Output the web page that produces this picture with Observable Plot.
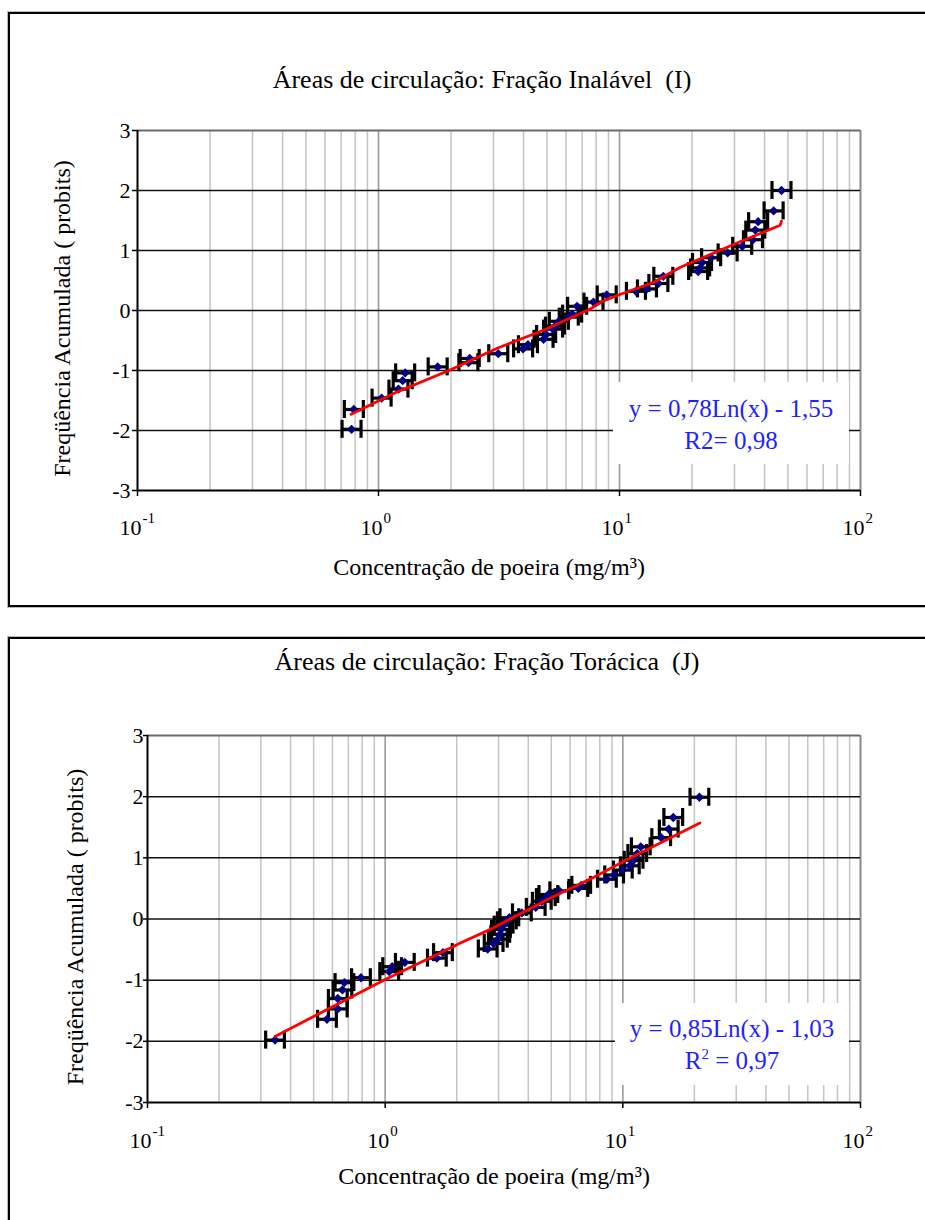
<!DOCTYPE html>
<html><head><meta charset="utf-8">
<script src="https://cdn.jsdelivr.net/npm/d3@7"></script>
<script src="https://cdn.jsdelivr.net/npm/@observablehq/plot@0.6"></script>
<style>
body{margin:0;width:925px;height:1220px;overflow:hidden;background:#fff;position:relative;font-family:"Liberation Serif","Times New Roman",serif;}
.panel{position:absolute;border:2px solid #000;box-sizing:border-box;box-shadow:0 0 0 1px #bbb;}
.chart{position:absolute;left:0;}
.title{position:absolute;white-space:pre;font-size:26px;line-height:1;transform:translate(-50%,-50%);color:#000;}
.eq{position:absolute;background:#fff;z-index:2;}
.eq div{position:absolute;left:50%;white-space:pre;font-size:25px;line-height:1;color:#1f1fff;transform:translate(-50%,-50%);}
</style></head>
<body>
<div class="panel" style="left:8px;top:12px;width:940px;height:595px;"></div>
<div class="panel" style="left:8px;top:637px;width:940px;height:700px;"></div>
<div class="title" style="left:482px;top:80px;">Áreas de circulação: Fração Inalável  (I)</div>
<div class="title" style="left:487px;top:662px;">Áreas de circulação: Fração Torácica  (J)</div>
<div id="c1" class="chart" style="top:0px;"></div>
<div id="c2" class="chart" style="top:620px;"></div>
<div class="eq" style="left:613px;top:382px;width:236px;height:82px;"><div style="top:26px;">y = 0,78Ln(x) - 1,55</div><div style="top:58px;">R2= 0,98</div></div>
<div class="eq" style="left:615px;top:1003px;width:234px;height:82px;"><div style="top:25px;">y = 0,85Ln(x) - 1,03</div><div style="top:57px;">R<sup style="font-size:15px;vertical-align:10px;line-height:0">2</sup> = 0,97</div></div>
<script>
// ---- Data: Fração Inalável (I) ----
const inalX = [0.773, 0.79, 1.03, 1.21, 1.26, 1.29, 1.76, 2.36, 2.39, 3.14, 3.98, 4.17, 4.84, 4.96, 5.3, 5.4, 5.6, 6.16, 6.36, 6.67, 7.8, 8.85, 11.7, 13.0, 14.5, 15.2, 21.2, 21.6, 22.0, 24.0, 28.1, 32.3, 35.8, 36.6, 37.6, 43.6, 47.0];
const inalY = [-1.98, -1.65, -1.46, -1.31, -1.17, -1.04, -0.94, -0.87, -0.80, -0.72, -0.64, -0.57, -0.48, -0.40, -0.31, -0.26, -0.18, -0.11, -0.06, 0.07, 0.14, 0.26, 0.32, 0.36, 0.45, 0.57, 0.65, 0.71, 0.80, 0.88, 0.96, 1.07, 1.18, 1.34, 1.48, 1.66, 2.0];
const inalFitX = [0.77, 1.19, 1.96, 3.11, 4.84, 7.59, 8.47, 10.1, 13.9, 15.8, 17.9, 31.8, 46.4, 47.0];
const inalFitY = [-1.73, -1.36, -1.00, -0.63, -0.33, 0.03, 0.15, 0.27, 0.47, 0.60, 0.72, 1.15, 1.42, 1.49];

// ---- Data: Fração Torácica (J) ----
const torX = [0.344, 0.569, 0.632, 0.632, 0.661, 0.674, 0.791, 1.04, 1.07, 1.21, 1.65, 1.75, 2.70, 2.86, 2.98, 3.05, 3.07, 3.15, 3.25, 3.33, 3.76, 4.30, 4.56, 4.74, 4.86, 5.40, 6.50, 6.68, 8.57, 9.19, 10.0, 10.7, 11.1, 11.5, 11.9, 14.5, 15.6, 16.3, 21.0];
const torY = [-1.98, -1.64, -1.47, -1.30, -1.16, -1.04, -0.96, -0.86, -0.78, -0.71, -0.64, -0.55, -0.49, -0.40, -0.33, -0.25, -0.17, -0.10, -0.03, 0.02, 0.10, 0.19, 0.29, 0.35, 0.40, 0.46, 0.50, 0.55, 0.65, 0.72, 0.80, 0.87, 0.96, 1.07, 1.18, 1.33, 1.47, 1.66, 1.99];
const torFitX = [0.344, 1.0, 1.94, 2.05, 2.77, 4.94, 7.52, 10.06, 21.1];
const torFitY = [-1.92, -0.99, -0.45, -0.40, -0.17, 0.34, 0.68, 0.94, 1.57];

// ---- Axes ----
const decades = [0.1, 1, 10, 100];
const exponents = ["-1", "0", "1", "2"];
const yTicks = [-3, -2, -1, 0, 1, 2, 3];
const minorX = [0.2,0.3,0.4,0.5,0.6,0.7,0.8,0.9,2,3,4,5,6,7,8,9,20,30,40,50,60,70,80,90];
const ERR = 1.095; // horizontal error bar factor

function makeChart({xs, ys, fx, fy, marginLeft, marginTop, marginBottom, height, xTitleDy, yTitleDx, xTitleDx, tickSize, tickPadding, labDy}) {
  const pts = xs.map((x, i) => ({x, y: ys[i]}));
  const fit = fx.map((x, i) => ({x, y: fy[i]}));
  return Plot.plot({
    width: 925, height, marginLeft, marginRight: 65, marginTop, marginBottom,
    style: {fontFamily: "Liberation Serif, Times New Roman, serif", fontSize: "21px", color: "#000", background: "transparent", overflow: "visible"},
    x: {type: "log", domain: [0.1, 100]},
    y: {domain: [-3, 3]},
    marks: [
      Plot.ruleX(minorX, {stroke: "#c4c4c4", strokeWidth: 1.5}),
      Plot.ruleX([1, 10], {stroke: "#9a9a9a", strokeWidth: 1.6}),
      Plot.ruleX([100], {stroke: "#8a8a8a", strokeWidth: 2}),
      Plot.ruleY([-2, -1, 0, 1, 2], {stroke: "#111", strokeWidth: 1.5}),
      Plot.ruleY([3], {stroke: "#6a6a6a", strokeWidth: 2}),
      Plot.ruleY([-3], {stroke: "#000", strokeWidth: 2}),
      Plot.ruleX([0.1], {stroke: "#000", strokeWidth: 2}),
      Plot.axisY({ticks: yTicks, tickSize, tickPadding, tickFormat: d => String(d), fontSize: 22, label: null, strokeWidth: 1.5}),
      Plot.axisX({ticks: decades, tickSize: 6, tickFormat: () => "", label: null, strokeWidth: 1.5}),
      Plot.text(decades, {x: d => d, frameAnchor: "bottom", lineAnchor: "middle", text: () => "10", textAnchor: "end", dx: 4, dy: labDy, fontSize: 22}),
      Plot.text(decades, {x: d => d, frameAnchor: "bottom", lineAnchor: "middle", text: (d, i) => exponents[i], textAnchor: "start", dx: 5, dy: labDy - 9, fontSize: 15}),
      Plot.text(["Concentração de poeira (mg/m³)"], {frameAnchor: "bottom", lineAnchor: "middle", textAnchor: "middle", dy: xTitleDy, dx: xTitleDx, fontSize: 24}),
      Plot.text(["Freqüência Acumulada ( probits)"], {frameAnchor: "left", lineAnchor: "middle", textAnchor: "middle", rotate: -90, dx: yTitleDx, dy: 8, fontSize: 24}),
      Plot.ruleY(pts, {y: "y", x1: d => d.x / ERR, x2: d => d.x * ERR, stroke: "#000", strokeWidth: 3.2}),
      Plot.ruleX(pts, {x: d => d.x / ERR, y1: "y", y2: "y", insetTop: -9, insetBottom: -9, stroke: "#000", strokeWidth: 3.2}),
      Plot.ruleX(pts, {x: d => d.x * ERR, y1: "y", y2: "y", insetTop: -9, insetBottom: -9, stroke: "#000", strokeWidth: 3.2}),
      Plot.dot(pts, {x: "x", y: "y", symbol: "diamond2", r: 4.2, fill: "#000080", stroke: null}),
      Plot.line(fit, {x: "x", y: "y", stroke: "#ff0000", strokeWidth: 2.8})
    ]
  });
}

document.getElementById("c1").append(makeChart({
  xs: inalX, ys: inalY, fx: inalFitX, fy: inalFitY,
  marginLeft: 137, marginTop: 130, marginBottom: 110, height: 600,
  xTitleDy: 77, xTitleDx: -10, yTitleDx: -75, tickSize: 5, tickPadding: 2, labDy: 37
}));
document.getElementById("c2").append(makeChart({
  xs: torX, ys: torY, fx: torFitX, fy: torFitY,
  marginLeft: 147, marginTop: 115, marginBottom: 118, height: 600,
  xTitleDy: 74, xTitleDx: -10, yTitleDx: -72, tickSize: 4, tickPadding: 0, labDy: 38
}));
</script>
</body></html>
